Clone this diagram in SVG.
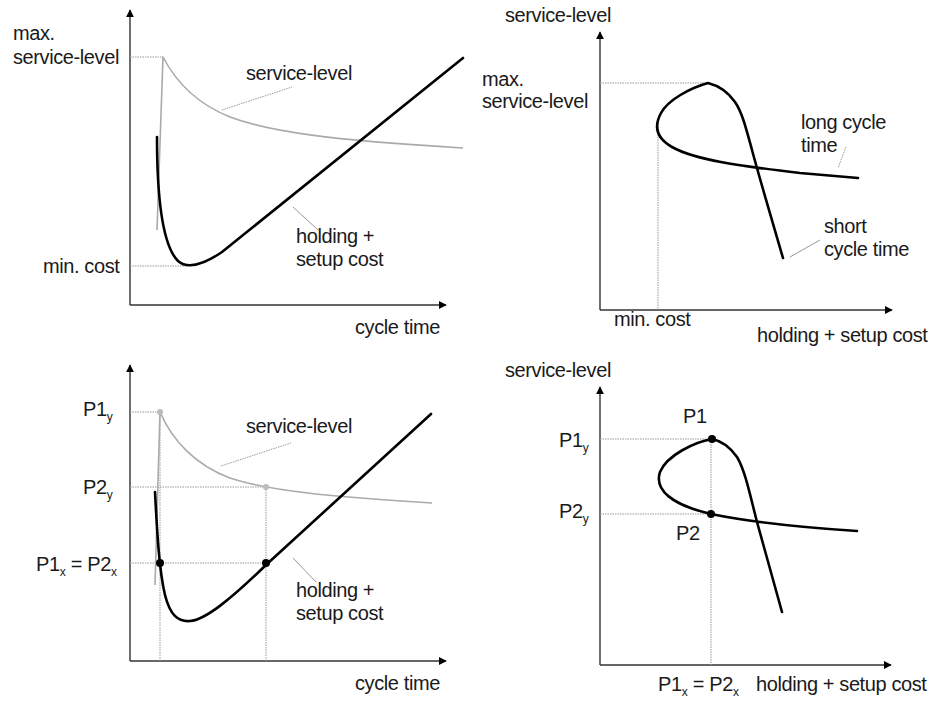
<svg xmlns="http://www.w3.org/2000/svg" width="929" height="701" viewBox="0 0 929 701">
  <style>
    text { font-family: "Liberation Sans", Arial, sans-serif; font-size: 20px; letter-spacing: -0.4px; fill: #1a1a1a; }
    .sub { font-size: 12px; letter-spacing: 0; }
    .axis { fill: none; stroke: #333; stroke-width: 1.4; }
    .guide { fill: none; stroke: #999; stroke-width: 1; stroke-dasharray: 1.5 1; }
    .leader { fill: none; stroke: #999; stroke-width: 1; }
    .leader-dot { fill: none; stroke: #999; stroke-width: 1; stroke-dasharray: 1.5 1; }
    .cost { fill: none; stroke: #000; stroke-width: 2.6; stroke-linecap: round; stroke-linejoin: round; }
    .svc { fill: none; stroke: #aaa; stroke-width: 1.6; stroke-linejoin: round; }
    .pt { fill: #000; }
    .pt-grey { fill: #bbb; }
  </style>
  <defs>
    <marker id="arrow" viewBox="0 0 10 10" refX="9" refY="5" markerWidth="8" markerHeight="8" orient="auto" markerUnits="userSpaceOnUse">
      <path d="M0,0 L10,5 L0,10 z" fill="#000"/>
    </marker>
  </defs>

  <rect width="929" height="701" fill="#fff"/>

  <!-- Top left: service-level and cost over cycle time -->
  <g id="chart-cycle-top">
    <path class="axis" d="M130,305 L130,10" marker-end="url(#arrow)"/>
    <path class="axis" d="M130,305 L446,305" marker-end="url(#arrow)"/>
    <path class="guide" d="M130,57 L163,57"/>
    <path class="guide" d="M130,266 L190,266"/>
    <path class="svc" d="M157,230 L163,57 C175,80 195,103 230,117 C270,132 330,140 463,148"/>
    <path class="cost" d="M157,137 C157,195 162,245 178,261 C186,268 200,267 222,252 L463,58"/>
    <path class="leader-dot" d="M222,110 L292,87"/>
    <path class="leader" d="M293,207 L318,230"/>
    <text x="13" y="40">max.</text>
    <text x="13" y="64">service-level</text>
    <text x="246" y="80">service-level</text>
    <text x="296" y="243">holding +</text>
    <text x="296" y="266">setup cost</text>
    <text x="43" y="273">min. cost</text>
    <text x="355" y="334">cycle time</text>
  </g>

  <!-- Top right: service-level against cost -->
  <g id="chart-tradeoff-top">
    <path class="axis" d="M600,310 L600,32" marker-end="url(#arrow)"/>
    <path class="axis" d="M600,310 L892,310" marker-end="url(#arrow)"/>
    <path class="guide" d="M600,83 L708,83"/>
    <path class="guide" d="M658,127 L658,310"/>
    <path class="cost" d="M783,258 C772,220 760,180 752,150 C746,128 742,112 735,102 C728,92 720,86 708,83 C690,88 668,100 661,113 C654,126 656,138 672,147 C695,160 740,166 800,173 C825,175 845,177 858,178"/>
    <path class="leader-dot" d="M846,147 L838,168"/>
    <path class="leader" d="M820,240 L790,257"/>
    <text x="505" y="22">service-level</text>
    <text x="482" y="86">max.</text>
    <text x="482" y="108">service-level</text>
    <text x="801" y="129">long cycle</text>
    <text x="801" y="152">time</text>
    <text x="824" y="233">short</text>
    <text x="824" y="256">cycle time</text>
    <text x="614" y="326">min. cost</text>
    <text x="757" y="342">holding + setup cost</text>
  </g>

  <!-- Bottom left: points P1 and P2 on the cycle-time chart -->
  <g id="chart-cycle-bottom">
    <path class="axis" d="M130,661 L130,365" marker-end="url(#arrow)"/>
    <path class="axis" d="M130,661 L446,661" marker-end="url(#arrow)"/>
    <path class="guide" d="M130,412 L160,412"/>
    <path class="guide" d="M130,487 L266,487"/>
    <path class="guide" d="M130,563 L266,563"/>
    <path class="guide" d="M160,412 L160,661"/>
    <path class="guide" d="M266,487 L266,661"/>
    <path class="svc" d="M155,585 L160,412 C172,440 195,465 230,478 C265,490 330,497 432,503"/>
    <path class="cost" d="M155,492 C157,530 159,570 165,595 C170,615 178,622 190,621 C205,620 230,600 267,564 L431,414"/>
    <circle class="pt-grey" cx="160" cy="412" r="3"/>
    <circle class="pt-grey" cx="266" cy="487" r="3"/>
    <circle class="pt" cx="160" cy="563" r="4"/>
    <circle class="pt" cx="266" cy="563" r="4"/>
    <path class="leader-dot" d="M221,466 L291,443"/>
    <path class="leader" d="M293,558 L316,582"/>
    <text x="83" y="416">P1<tspan class="sub" dy="5">y</tspan></text>
    <text x="83" y="494">P2<tspan class="sub" dy="5">y</tspan></text>
    <text x="36" y="571">P1<tspan class="sub" dy="5">x</tspan><tspan dy="-5"> = P2</tspan><tspan class="sub" dy="5">x</tspan></text>
    <text x="246" y="433">service-level</text>
    <text x="296" y="597">holding +</text>
    <text x="296" y="620">setup cost</text>
    <text x="355" y="690">cycle time</text>
  </g>

  <!-- Bottom right: points P1 and P2 on the trade-off chart -->
  <g id="chart-tradeoff-bottom">
    <path class="axis" d="M600,665 L600,387" marker-end="url(#arrow)"/>
    <path class="axis" d="M600,665 L891,665" marker-end="url(#arrow)"/>
    <path class="guide" d="M600,439 L712,439"/>
    <path class="guide" d="M600,514 L711,514"/>
    <path class="guide" d="M711,439 L711,665"/>
    <path class="cost" d="M782,612 C772,575 762,540 757,522 C750,495 745,470 737,457 C730,447 722,441 712,439 C695,442 667,455 660,472 C654,490 672,505 711,514 C760,524 810,528 857,531"/>
    <circle class="pt" cx="712" cy="439" r="4"/>
    <circle class="pt" cx="711" cy="514" r="4"/>
    <text x="505" y="377">service-level</text>
    <text x="683" y="423">P1</text>
    <text x="559" y="447">P1<tspan class="sub" dy="5">y</tspan></text>
    <text x="559" y="518">P2<tspan class="sub" dy="5">y</tspan></text>
    <text x="676" y="540">P2</text>
    <text x="658" y="691">P1<tspan class="sub" dy="5">x</tspan><tspan dy="-5"> = P2</tspan><tspan class="sub" dy="5">x</tspan></text>
    <text x="756" y="691">holding + setup cost</text>
  </g>
</svg>
